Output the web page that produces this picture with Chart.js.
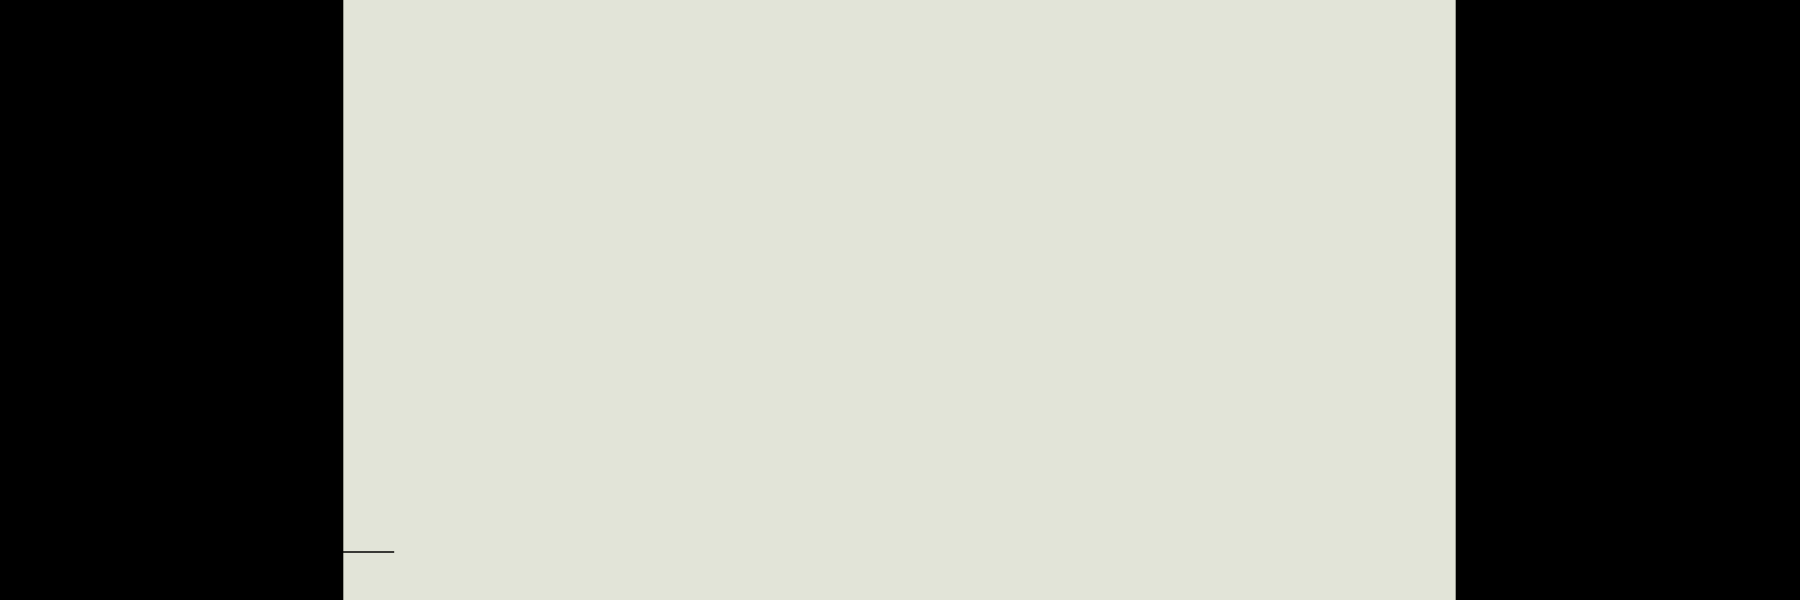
<!DOCTYPE html>
<html>
<head>
<meta charset="utf-8">
<script src="https://cdn.jsdelivr.net/npm/chart.js@4/dist/chart.umd.min.js"></script>
<style>
  html, body { margin: 0; padding: 0; background: #000; }
  #wrap { width: 1800px; height: 600px; }
</style>
</head>
<body>
<div id="wrap"><canvas id="chart"></canvas></div>
<script>
// Series values (x in percent of the plot width, y in percent of its height)
const xValues = [0, 4.6];
const yValues = [8, 8];
const xRange = [0, 100];
const yRange = [0, 100];

const points = xValues.map((x, i) => ({ x: x, y: yValues[i] }));

// Fill the plot area and draw its thin side borders
const plotBackground = {
    id: 'plotBackground',
    beforeDraw(chart) {
        const { ctx, chartArea: a } = chart;
        ctx.save();
        ctx.fillStyle = '#e2e4d8';
        ctx.fillRect(a.left, a.top, a.right - a.left, a.bottom - a.top);
        ctx.strokeStyle = '#9c9e94';
        ctx.lineWidth = 1;
        ctx.beginPath();
        ctx.moveTo(a.left + 0.5, a.top);
        ctx.lineTo(a.left + 0.5, a.bottom);
        ctx.moveTo(a.right - 0.5, a.top);
        ctx.lineTo(a.right - 0.5, a.bottom);
        ctx.stroke();
        ctx.restore();
    }
};

new Chart(document.getElementById('chart'), {
    type: 'line',
    data: {
        datasets: [{
            data: points,
            borderColor: '#000000',
            borderWidth: 1.5,
            pointRadius: 0,
            tension: 0,
            fill: false
        }]
    },
    options: {
        responsive: true,
        maintainAspectRatio: false,
        animation: false,
        layout: { padding: { left: 343, right: 344, top: 0, bottom: 0 } },
        plugins: { legend: { display: false }, tooltip: { enabled: false } },
        scales: {
            x: { type: 'linear', min: xRange[0], max: xRange[1], display: false },
            y: { type: 'linear', min: yRange[0], max: yRange[1], display: false }
        }
    },
    plugins: [plotBackground]
});
</script>
</body>
</html>
